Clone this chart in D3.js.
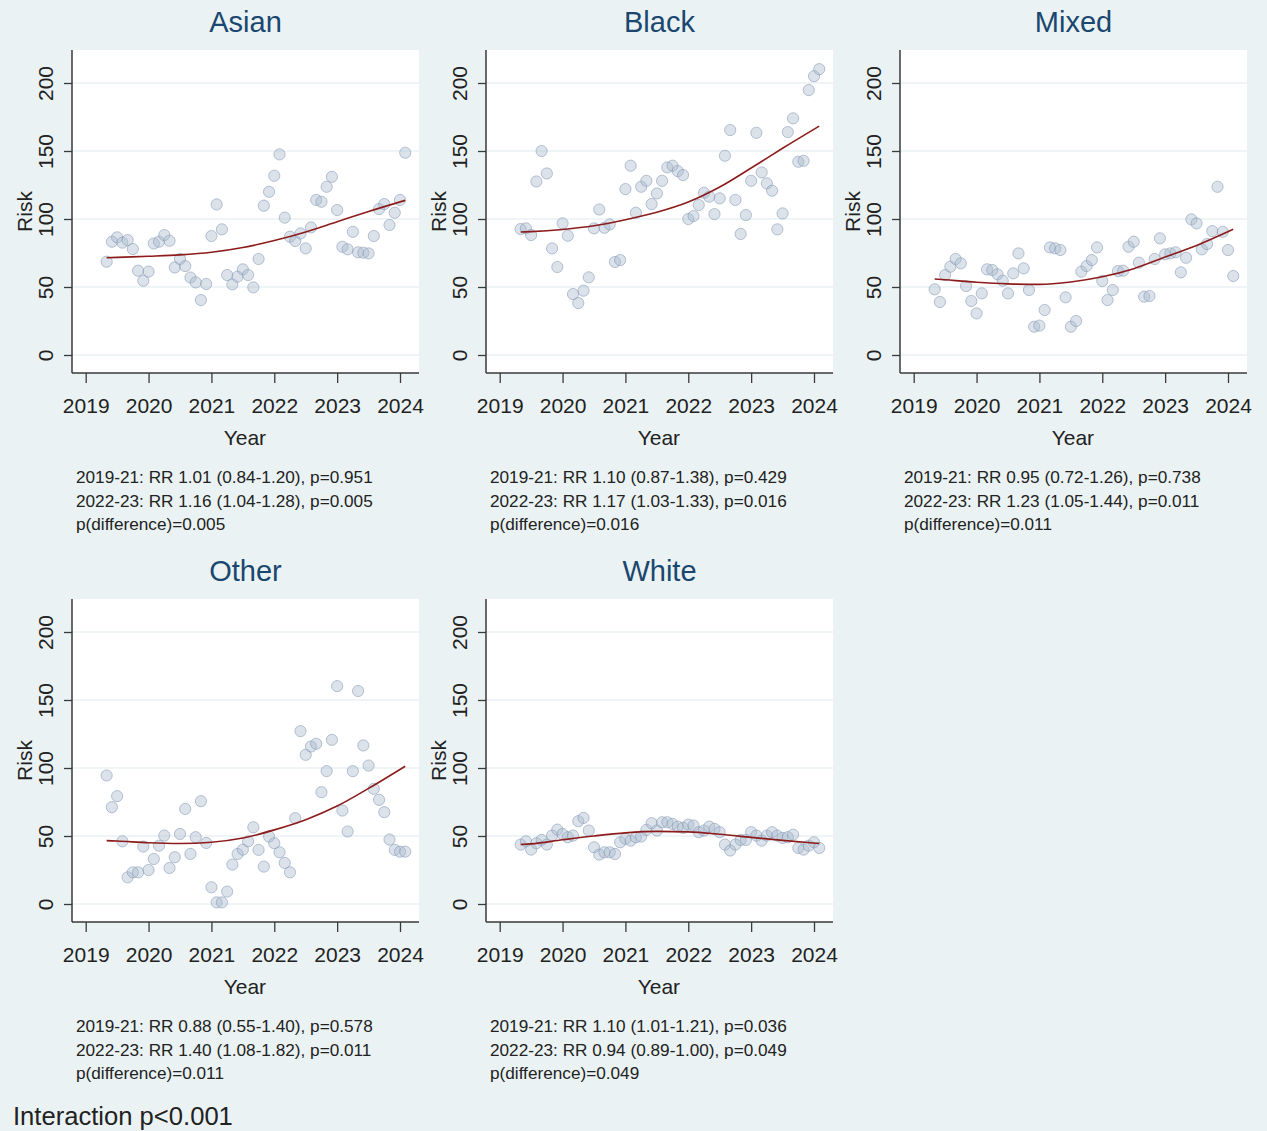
<!DOCTYPE html>
<html>
<head>
<meta charset="utf-8">
<script src="https://cdn.jsdelivr.net/npm/d3@7"></script>
<style>
  html, body { margin: 0; padding: 0; background: #eaf2f3; }
  svg { display: block; }
  text { font-family: "Liberation Sans", Arial, sans-serif; }
</style>
</head>
<body>
<svg id="chart" width="1267" height="1131"></svg>
<script>
// ---------- Data (monthly, May 2019 – Feb 2024) ----------
const startYear = 2019, startMonth = 4; // May 2019 (0-based month)
const groups = ["Asian", "Black", "Mixed", "Other", "White"];

const asian = [68.6,83.3,86.5,82.6,84.5,77.9,62,54.6,61.3,82,83.3,88.2,84,64.4,70.6,65.4,57,53.4,40.4,52.2,
  87.5,110.7,92.4,58.8,51.9,57.6,63,58.8,49.7,70.6,109.8,120,131.8,147.5,101,87,83.8,89.4,78.4,93.8,
  114,112.7,123.7,131,106.6,79.6,77.7,90.6,75.5,75.2,74.7,87.5,107.3,111,95.6,104.6,114,148.7];
const black = [92.6,93.1,88.2,127.6,150,133.5,78.4,64.7,96.8,87.7,44.8,38.2,47.3,57.1,93.1,107,93.6,96,68.4,69.8,
  122,139.2,104.6,123.7,128.1,111,118.8,128.1,137.9,139.2,135.2,132.3,100,102.2,110.3,119.3,116.4,103.6,115.2,146.5,
  165.4,114,89,102.9,128.1,163.4,134.3,126.2,120.8,92.4,104.1,163.9,174,142.1,142.8,194.8,205,210.2];
const mixed = [48.3,39,58.8,64.9,70.6,67.4,50.7,39.7,30.6,45.3,63,62.5,59.3,54.6,45.3,60,74.7,63.7,47.8,20.8,
  21.6,33.1,79.1,78.4,77.2,42.4,20.8,25,61.3,65.4,69.8,79.1,54.4,40.4,47.8,61.7,62,79.6,83.3,67.9,
  42.9,43.4,70.6,85.8,74,74.7,75.5,60.8,71.5,99.7,96.8,77.7,81.6,91.1,123.7,90.6,77.2,58.1];
const other = [94.5,71.2,79.3,46.1,19.6,23.3,23.3,42.2,25,33.1,42.9,50.3,26.5,34.4,51.5,69.9,36.8,49.1,75.6,44.9,
  12.3,1.2,1.2,9.1,29,36.8,40,46.1,56.4,39.8,27.5,49.6,44.7,38,30.2,23.3,63.1,127.1,109.7,115.8,
  117.8,82.2,97.7,120.7,160.2,68.7,53.3,97.7,156.6,116.6,101.8,84.7,76.6,67.5,47.4,39.8,38.5,38.5];
const white = [43.7,46.1,40,44.7,47.1,43.7,50.3,54.7,51.5,49.1,50.3,60.9,63.3,54,41.7,36.3,38,38,36.8,45.4,
  47.9,46.6,49.1,49.6,54.5,59.4,54,60.1,60.1,58.9,56.9,56,58.4,57.7,52.8,54,56.9,55.2,52.8,43.7,
  39.3,43.7,47.1,47.1,52.8,50.3,46.6,50.3,52.8,50.3,48.6,49.1,51,41.2,40,42.9,45.4,41.2];

// Fitted curves, read at these decimal years
const fitYears = [2019.333, 2019.5, 2020, 2020.5, 2021, 2021.5, 2022, 2022.5, 2023, 2023.5, 2024.083];
const fitAsian = [71.5, 71.8, 72.6, 73.6, 75.5, 79, 84.2, 90.5, 98, 105.5, 113.7];
const fitBlack = [90.4, 90.7, 92.3, 95, 99.5, 105, 112.5, 123.5, 137.5, 152, 168.3];
const fitMixed = [55.9, 55.3, 53.5, 52.3, 51.9, 53.7, 57.5, 63.5, 72, 80.5, 92.4];
const fitOther = [46.6, 46.3, 45, 44.5, 45.4, 48.5, 54.5, 62, 72, 85, 101.3];
const fitWhite = [43.7, 44.2, 47.2, 50, 52.3, 53.4, 53, 51.3, 49, 46.8, 44.5];

const yearTicks = [2019, 2020, 2021, 2022, 2023, 2024];
const riskTicks = [0, 50, 100, 150, 200];

const notes = [
  ["2019-21: RR 1.01 (0.84-1.20), p=0.951", "2022-23: RR 1.16 (1.04-1.28), p=0.005", "p(difference)=0.005"],
  ["2019-21: RR 1.10 (0.87-1.38), p=0.429", "2022-23: RR 1.17 (1.03-1.33), p=0.016", "p(difference)=0.016"],
  ["2019-21: RR 0.95 (0.72-1.26), p=0.738", "2022-23: RR 1.23 (1.05-1.44), p=0.011", "p(difference)=0.011"],
  ["2019-21: RR 0.88 (0.55-1.40), p=0.578", "2022-23: RR 1.40 (1.08-1.82), p=0.011", "p(difference)=0.011"],
  ["2019-21: RR 1.10 (1.01-1.21), p=0.036", "2022-23: RR 0.94 (0.89-1.00), p=0.049", "p(difference)=0.049"]
];
const footer = "Interaction p<0.001";

const seriesList = [asian, black, mixed, other, white];
const fitList = [fitAsian, fitBlack, fitMixed, fitOther, fitWhite];

// ---------- Layout ----------
const svg = d3.select("#chart");
const W = 347, H = 323;
const colX = [72, 486, 900];
const rowY = [50, 599];
const titleColor = "#1a476f";
const gridColor = "#eaf2f3";
const axisColor = "#3a3a3a";

groups.forEach((name, gi) => {
  const left = colX[gi % 3], top = rowY[Math.floor(gi / 3)];
  const g = svg.append("g").attr("transform", `translate(${left},${top})`);

  const x = d3.scaleLinear().domain([2019, 2024]).range([13.7, 328]);
  const y = d3.scaleLinear().domain([0, 200]).range([305, 33]);

  g.append("rect").attr("width", W).attr("height", H).attr("fill", "#ffffff");

  // gridlines
  g.selectAll(".grid").data(riskTicks).join("line")
    .attr("x1", 0).attr("x2", W)
    .attr("y1", d => y(d)).attr("y2", d => y(d))
    .attr("stroke", gridColor).attr("stroke-width", 1.5);

  // points
  const vals = seriesList[gi];
  const pts = vals.map((v, i) => ({ t: startYear + (startMonth + i) / 12, v }));
  g.selectAll(".pt").data(pts).join("circle")
    .attr("cx", d => x(d.t)).attr("cy", d => y(d.v)).attr("r", 5.6)
    .attr("fill", "rgba(170,186,206,0.42)")
    .attr("stroke", "rgba(130,150,180,0.55)").attr("stroke-width", 1);

  // fitted line
  const fit = fitYears.map((t, i) => [t, fitList[gi][i]]);
  g.append("path").datum(fit)
    .attr("d", d3.line().x(d => x(d[0])).y(d => y(d[1])).curve(d3.curveMonotoneX))
    .attr("fill", "none").attr("stroke", "#8c1c1c").attr("stroke-width", 1.6);

  // y axis
  const yAxis = g.append("g").call(d3.axisLeft(y).tickValues(riskTicks).tickSize(8).tickSizeOuter(0));
  yAxis.select(".domain").attr("d", `M0,0V${H}`).attr("stroke", axisColor).attr("stroke-width", 1.5);
  yAxis.selectAll(".tick line").attr("stroke", axisColor).attr("stroke-width", 1.3);
  yAxis.selectAll(".tick text")
    .attr("transform", "rotate(-90)")
    .attr("x", 0).attr("y", -19).attr("dy", 0)
    .attr("text-anchor", "middle")
    .attr("font-size", 21).attr("fill", "#222")
    .style("font-family", "'Liberation Sans', Arial, sans-serif");

  // x axis
  const xAxis = g.append("g").attr("transform", `translate(0,${H})`)
    .call(d3.axisBottom(x).tickValues(yearTicks).tickFormat(d3.format("d")).tickSize(10).tickSizeOuter(0));
  xAxis.select(".domain").attr("d", `M0,0H${W}`).attr("stroke", axisColor).attr("stroke-width", 1.5);
  xAxis.selectAll(".tick line").attr("stroke", axisColor).attr("stroke-width", 1.3);
  xAxis.selectAll(".tick text")
    .attr("y", 40).attr("dy", 0)
    .attr("font-size", 21).attr("fill", "#222")
    .style("font-family", "'Liberation Sans', Arial, sans-serif");

  // axis titles
  g.append("text").attr("transform", `translate(-40,${H / 2}) rotate(-90)`)
    .attr("text-anchor", "middle").attr("font-size", 21).attr("fill", "#222").text("Risk");
  g.append("text").attr("x", (x(2019) + x(2024)) / 2 + 2).attr("y", H + 72)
    .attr("text-anchor", "middle").attr("font-size", 21).attr("fill", "#222").text("Year");

  // panel title
  g.append("text").attr("x", W / 2).attr("y", -18)
    .attr("text-anchor", "middle").attr("font-size", 29).attr("fill", titleColor).text(name);

  // notes
  notes[gi].forEach((line, li) => {
    g.append("text").attr("x", 4).attr("y", H + 110 + li * 23.5)
      .attr("font-size", 17.2).attr("fill", "#222").text(line);
  });
});

svg.append("text").attr("x", 13).attr("y", 1125)
  .attr("font-size", 25.6).attr("fill", "#222").text(footer);
</script>
</body>
</html>
